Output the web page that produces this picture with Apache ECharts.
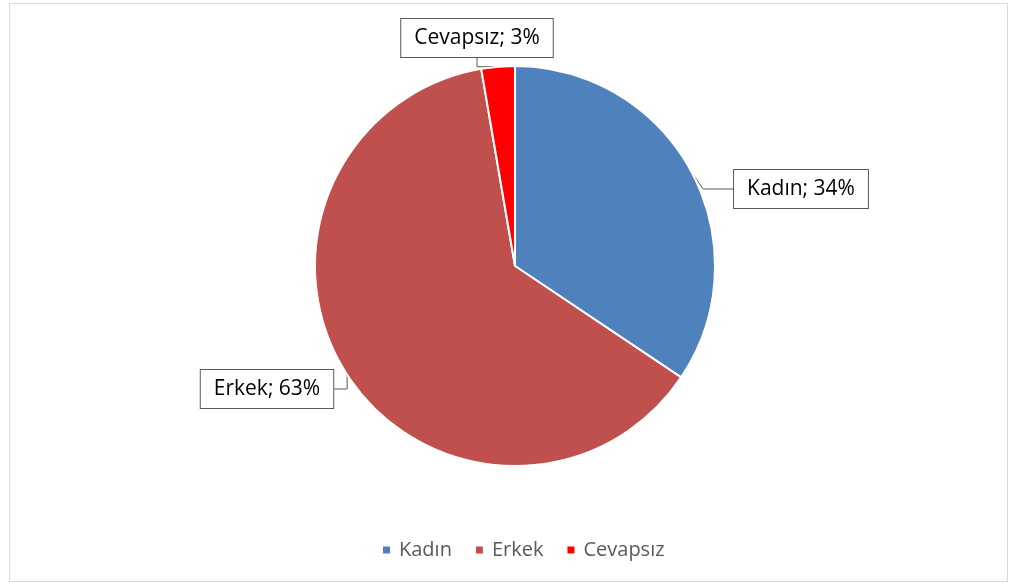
<!DOCTYPE html>
<html>
<head>
<meta charset="utf-8">
<script src="https://cdn.jsdelivr.net/npm/echarts@6/dist/echarts.min.js"></script>
<style>
  html, body { margin: 0; padding: 0; background: #fff; }
  #chart {
    position: absolute;
    left: 9px; top: 3px;
    width: 999px; height: 579px;
    border: 1px solid #d9d9d9;
    box-sizing: border-box;
  }
</style>
</head>
<body>
<div id="chart"></div>
<script>
const categories = ['Kadın', 'Erkek', 'Cevapsız']
const shares = [34.4, 62.9, 2.7]
const colors = ['#4F81BD', '#C0504D', '#FF0000']

// label box centres (callouts sit outside the pie)
const labelSpots = [
  { x: 791, y: 185 },
  { x: 257, y: 385 },
  { x: 467, y: 34 },
]

const chart = echarts.init(document.getElementById('chart'))

chart.setOption({
  animation: false,
  color: colors,
  legend: {
    bottom: 16,
    left: 366,
    icon: 'rect',
    itemWidth: 9,
    itemHeight: 9,
    itemGap: 22,
    textStyle: { fontFamily: 'Open Sans', fontSize: 20, color: '#595959', padding: [0, 0, 0, 3] },
    data: categories,
  },
  series: [
    {
      type: 'pie',
      center: [505, 262],
      radius: 200,
      startAngle: 90,
      clockwise: true,
      percentPrecision: 0,
      itemStyle: { borderColor: '#fff', borderWidth: 2 },
      label: {
        formatter: '{b}; {d}%',
        fontFamily: 'Open Sans',
        fontSize: 21,
        color: '#000',
        backgroundColor: '#fff',
        borderColor: '#595959',
        borderWidth: 1,
        padding: [9, 13, 8, 13],
      },
      labelLine: { show: true, lineStyle: { color: '#595959', width: 1 } },
      labelLayout: (p) => ({
        x: labelSpots[p.dataIndex].x,
        y: labelSpots[p.dataIndex].y,
        align: 'center',
        verticalAlign: 'middle',
      }),
      emphasis: { disabled: true },
      data: categories.map((name, i) => ({ name, value: shares[i] })),
    },
  ],
})
</script>
</body>
</html>
